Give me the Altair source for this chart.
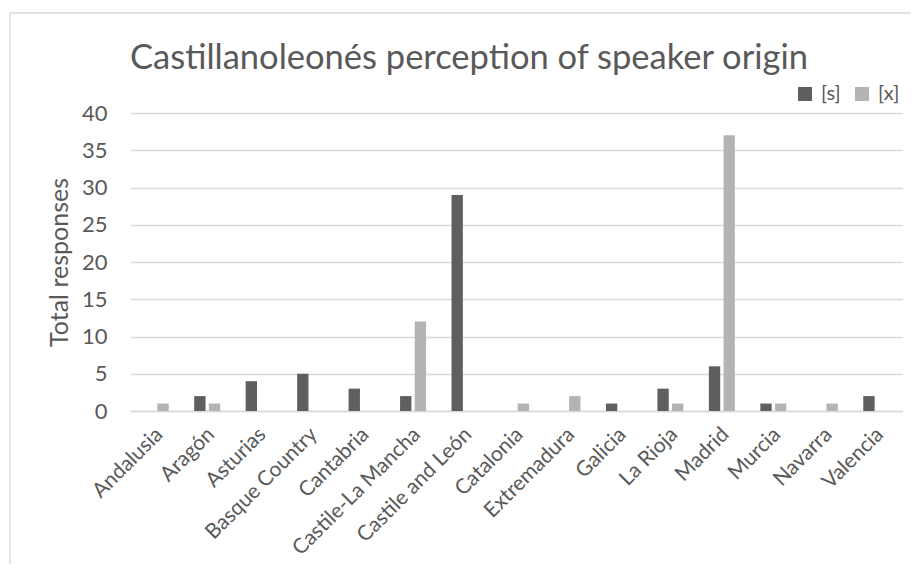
import altair as alt
import pandas as pd

regions = ["Andalusia", "Aragón", "Asturias", "Basque Country", "Cantabria",
           "Castile-La Mancha", "Castile and León", "Catalonia", "Extremadura",
           "Galicia", "La Rioja", "Madrid", "Murcia", "Navarra", "Valencia"]
s_vals = [0, 2, 4, 5, 3, 2, 29, 0, 0, 1, 3, 6, 1, 0, 2]
x_vals = [1, 1, 0, 0, 0, 12, 0, 1, 2, 0, 1, 37, 1, 1, 0]
series = ["[s]", "[x]"]
colors = ["#5f5f5f", "#b4b4b4"]
y_ticks = [0, 5, 10, 15, 20, 25, 30, 35, 40]

rows = []
for r, s, x in zip(regions, s_vals, x_vals):
    rows.append({"region": r, "series": series[0], "value": s})
    rows.append({"region": r, "series": series[1], "value": x})
df = pd.DataFrame(rows)

FONT = "Lato"
TEXT = "#595959"
GRID = "#d9d9d9"

frame = alt.Chart(alt.Data(values=[{}])).mark_rect(
    fillOpacity=0, stroke=GRID, strokeWidth=1.3
).encode(
    x=alt.value(-120), x2=alt.value(800),
    y=alt.value(-100), y2=alt.value(470)
)

bars = alt.Chart(df).mark_bar().encode(
    x=alt.X("region:N", sort=regions,
            scale=alt.Scale(paddingInner=0.495, paddingOuter=0.2475),
            axis=alt.Axis(title=None, labelAngle=-45, labelAlign="right",
                          labelBaseline="middle", labelPadding=20, labelOffset=4,
                          labelLimit=400,
                          ticks=False, domainColor=GRID, domainWidth=1.3,
                          labelFont=FONT, labelFontSize=21, labelColor=TEXT)),
    xOffset=alt.XOffset("series:N", sort=series,
                        scale=alt.Scale(paddingInner=0.226, paddingOuter=0)),
    y=alt.Y("value:Q", scale=alt.Scale(domain=[0, 40]),
            axis=alt.Axis(values=y_ticks, title="Total responses",
                          domain=False, ticks=False, gridColor=GRID, gridWidth=1.3,
                          labelPadding=23, labelFont=FONT, labelFontSize=22,
                          labelColor=TEXT, titleFont=FONT, titleFontSize=25,
                          titleFontWeight="normal", titleColor=TEXT,
                          titlePadding=9)),
    color=alt.Color("series:N", scale=alt.Scale(domain=series, range=colors),
                    legend=alt.Legend(title=None, orient="none", legendX=665,
                                      legendY=-29, direction="horizontal",
                                      symbolType="square", symbolSize=196,
                                      symbolStrokeWidth=0, symbolOpacity=1,
                                      labelFont=FONT, labelFontSize=20,
                                      labelColor=TEXT, labelOffset=6,
                                      columnPadding=11)),
)

chart = alt.layer(frame, bars).properties(
    width=772, height=298,
    padding={"left": 122, "top": 105, "right": 9, "bottom": 153},
    autosize=alt.AutoSizeParams(type="none"),
    title=alt.TitleParams(
        text="Castillanoleonés perception of speaker origin",
        font=FONT, fontSize=34.5, fontWeight="normal", color=TEXT,
        anchor="middle", frame="group", dx=-47, baseline="alphabetic",
        offset=-91),
).configure_view(stroke=None)

chart.save("out.html", embed_options={"renderer": "svg", "actions": False})
